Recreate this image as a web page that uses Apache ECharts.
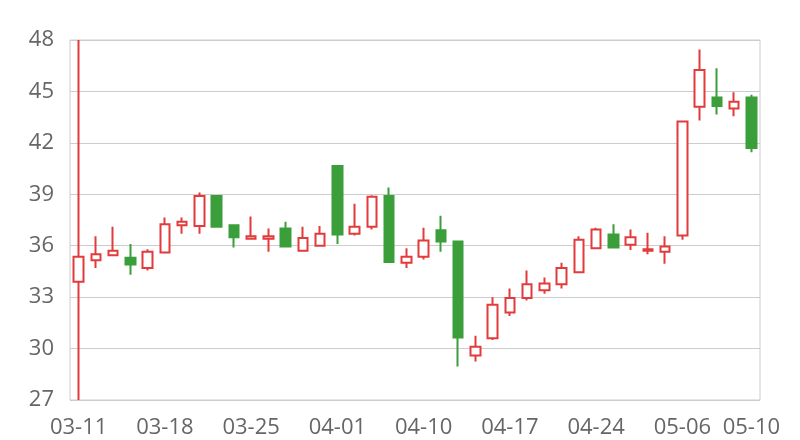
<!DOCTYPE html>
<html>
<head>
<meta charset="utf-8">
<script src="https://cdn.jsdelivr.net/npm/echarts@6/dist/echarts.min.js"></script>
<style>html,body{margin:0;padding:0;background:#fff}#c{width:800px;height:440px}</style>
</head>
<body>
<div id="c"></div>
<script>
var dates = ['03-11','03-12','03-13','03-14','03-15','03-18','03-19','03-20','03-21','03-22',
  '03-25','03-26','03-27','03-28','03-29','04-01','04-02','04-03','04-08','04-09',
  '04-10','04-11','04-12','04-15','04-16','04-17','04-18','04-19','04-22','04-23',
  '04-24','04-25','04-26','04-29','04-30','05-06','05-07','05-08','05-09','05-10'];
// [open, close, low, high]
var ohlc = [
  [33.9, 35.35, 27, 48],
  [35.15, 35.5, 34.7, 36.55],
  [35.45, 35.7, 35.4, 37.1],
  [35.3, 34.9, 34.3, 36.1],
  [34.7, 35.65, 34.55, 35.8],
  [35.6, 37.25, 35.6, 37.65],
  [37.2, 37.4, 36.7, 37.65],
  [37.15, 38.9, 36.7, 39.1],
  [38.9, 37.1, 37.1, 38.9],
  [37.2, 36.5, 35.9, 37.2],
  [36.4, 36.55, 36.35, 37.7],
  [36.4, 36.55, 35.65, 37.0],
  [37.0, 35.95, 35.95, 37.4],
  [35.7, 36.45, 35.7, 37.1],
  [36.0, 36.7, 36.0, 37.15],
  [40.65, 36.65, 36.1, 40.65],
  [36.7, 37.1, 36.6, 38.45],
  [37.1, 38.85, 36.95, 38.95],
  [38.9, 35.05, 35.05, 39.4],
  [35.0, 35.35, 34.7, 35.85],
  [35.35, 36.3, 35.2, 37.05],
  [36.9, 36.25, 35.65, 37.75],
  [36.25, 30.65, 28.95, 36.25],
  [29.6, 30.1, 29.25, 30.75],
  [30.6, 32.55, 30.5, 33.0],
  [32.1, 32.95, 31.9, 33.5],
  [32.95, 33.75, 32.8, 34.55],
  [33.4, 33.8, 33.2, 34.15],
  [33.75, 34.7, 33.5, 35.0],
  [34.45, 36.35, 34.45, 36.55],
  [35.85, 36.95, 35.85, 37.05],
  [36.65, 35.9, 35.9, 37.25],
  [36.05, 36.5, 35.75, 36.95],
  [35.7, 35.8, 35.5, 36.75],
  [35.65, 35.95, 34.95, 36.55],
  [36.6, 43.25, 36.35, 43.25],
  [44.1, 46.25, 43.3, 47.45],
  [44.65, 44.15, 43.65, 46.35],
  [44.0, 44.4, 43.55, 44.95],
  [44.65, 41.7, 41.45, 44.8]
];
var yMin = 27, yMax = 48, yStep = 3;

var chart = echarts.init(document.getElementById('c'), null, {renderer: 'canvas'});
chart.setOption({
  animation: false,
  backgroundColor: '#fff',
  grid: {left: 70, right: 40, top: 40, bottom: 40, show: true, borderColor: '#ccc', borderWidth: 1, backgroundColor: 'transparent'},
  xAxis: {
    type: 'category',
    data: dates,
    boundaryGap: true,
    axisLine: {show: false},
    axisTick: {show: false},
    splitLine: {show: false},
    axisLabel: {
      interval: function (i) { return i % 5 === 0 || i === dates.length - 1; },
      color: '#666', fontSize: 22, fontFamily: 'Open Sans', margin: 17
    }
  },
  yAxis: {
    type: 'value',
    min: yMin, max: yMax, interval: yStep,
    axisLine: {show: false},
    axisTick: {show: false},
    splitLine: {lineStyle: {color: '#ccc', width: 1}},
    axisLabel: {color: '#666', fontSize: 22, fontFamily: 'Open Sans', margin: 16}
  },
  series: [{
    type: 'candlestick',
    data: ohlc,
    clip: true,
    barWidth: 10,
    itemStyle: {
      color: '#ffffff',
      color0: '#3a9e3a',
      borderColor: '#e33b3b',
      borderColor0: '#3a9e3a',
      borderWidth: 2
    }
  }]
});
</script>
</body>
</html>
